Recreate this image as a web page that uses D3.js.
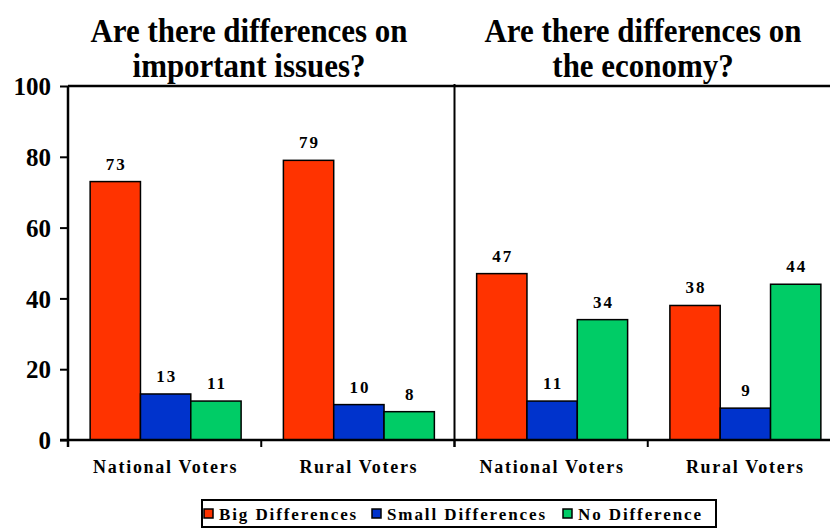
<!DOCTYPE html>
<html>
<head>
<meta charset="utf-8">
<script src="https://cdn.jsdelivr.net/npm/d3@7"></script>
<style>
  body { margin: 0; background: #fff; }
  svg { display: block; }
  text { font-family: "Liberation Serif", "Times New Roman", serif; font-weight: bold; fill: #000; }
</style>
</head>
<body>
<svg width="830" height="529"></svg>
<script>
// chart data
const panelTitles = [
  ["Are there differences on", "important issues?"],
  ["Are there differences on", "the economy?"]
];
const categories = ["National Voters", "Rural Voters"];
const series = ["Big Differences", "Small Differences", "No Difference"];
const seriesColors = ["#ff3300", "#0033cc", "#00cc66"];
const issuesValues = [[73, 13, 11], [79, 10, 8]];
const economyValues = [[47, 11, 34], [38, 9, 44]];
const yTicks = [0, 20, 40, 60, 80, 100];

const panelValues = [issuesValues, economyValues];

var svg = d3.select("svg"),
    width = +svg.attr("width"),
    height = +svg.attr("height");

var mLeft = 68, mRight = 841, mTop = 86, mBottom = 440;

var y = d3.scaleLinear().domain([0, 100]).range([mBottom, mTop]);

var xPanel = d3.scaleBand()
    .domain(d3.range(panelTitles.length))
    .range([mLeft, mRight]);

var color = d3.scaleOrdinal().domain(series).range(seriesColors);

// titles (narrow, tall bold serif -> squeeze horizontally)
var titleCenters = [249, 643];
var squeeze = 0.91;
panelTitles.forEach(function (lines, i) {
    svg.append("text")
        .attr("text-anchor", "middle")
        .attr("transform", "scale(" + squeeze + ",1)")
        .style("font-size", "34px")
        .selectAll("tspan")
        .data(lines)
        .enter().append("tspan")
        .attr("x", titleCenters[i] / squeeze)
        .attr("y", function (d, k) { return 42 + k * 35; })
        .text(function (d) { return d; });
});

// y axis
var yAxis = d3.axisLeft(y)
    .tickValues(yTicks)
    .tickSize(8)
    .tickPadding(9);

var gy = svg.append("g")
    .attr("transform", "translate(" + mLeft + ",0)")
    .call(yAxis);
gy.select(".domain").remove();
gy.selectAll(".tick line").attr("stroke", "#000").attr("stroke-width", 2);
gy.selectAll(".tick text")
    .style("font-size", "25px")
    .style("font-family", "'Liberation Serif', serif")
    .style("font-weight", "bold")
    .attr("dy", "0.35em");

// panels
panelValues.forEach(function (values, p) {
    var x0 = d3.scaleBand()
        .domain(categories)
        .range([xPanel(p), xPanel(p) + xPanel.bandwidth()]);

    var x1 = d3.scaleBand()
        .domain(series)
        .range([0, x0.bandwidth()])
        .paddingOuter(0.42);

    var g = svg.append("g").attr("class", "panel");

    var groups = g.selectAll("g.cat")
        .data(categories)
        .enter().append("g")
        .attr("class", "cat")
        .attr("transform", function (d) { return "translate(" + (x0(d) + 1) + ",0)"; });

    groups.selectAll("rect")
        .data(function (d, i) { return values[i].map(function (v, k) { return {s: series[k], v: v}; }); })
        .enter().append("rect")
        .attr("x", function (d) { return x1(d.s); })
        .attr("y", function (d) { return y(d.v); })
        .attr("width", x1.bandwidth())
        .attr("height", function (d) { return mBottom - y(d.v); })
        .attr("fill", function (d) { return color(d.s); })
        .attr("stroke", "#000")
        .attr("stroke-width", 1.5);

    groups.selectAll("text.val")
        .data(function (d, i) { return values[i].map(function (v, k) { return {s: series[k], v: v}; }); })
        .enter().append("text")
        .attr("class", "val")
        .attr("x", function (d) { return x1(d.s) + x1.bandwidth() / 2 + 1; })
        .attr("y", function (d) { return y(d.v) - 12; })
        .attr("text-anchor", "middle")
        .style("font-size", "17px")
        .style("letter-spacing", "2px")
        .text(function (d) { return d.v; });

    groups.append("text")
        .attr("x", x0.bandwidth() / 2)
        .attr("y", 473)
        .attr("text-anchor", "middle")
        .style("font-size", "18px")
        .style("letter-spacing", "1.7px")
        .text(function (d) { return d; });

    // bottom ticks at category edges
    var edges = categories.map(function (c) { return x0(c); });
    g.selectAll("line.xt")
        .data(edges)
        .enter().append("line")
        .attr("x1", function (d) { return d; })
        .attr("x2", function (d) { return d; })
        .attr("y1", mBottom)
        .attr("y2", mBottom + 7)
        .attr("stroke", "#000")
        .attr("stroke-width", 2);
});

// frame lines
svg.append("line")
    .attr("x1", mLeft).attr("x2", mRight)
    .attr("y1", mTop).attr("y2", mTop)
    .attr("stroke", "#000").attr("stroke-width", 2.5);
svg.append("line")
    .attr("x1", mLeft - 8).attr("x2", mRight)
    .attr("y1", mBottom).attr("y2", mBottom)
    .attr("stroke", "#000").attr("stroke-width", 2.5);
svg.append("line")
    .attr("x1", mLeft).attr("x2", mLeft)
    .attr("y1", mTop).attr("y2", mBottom + 7)
    .attr("stroke", "#000").attr("stroke-width", 2.5);
svg.append("line")
    .attr("x1", xPanel(1)).attr("x2", xPanel(1))
    .attr("y1", mTop - 2).attr("y2", mBottom + 7)
    .attr("stroke", "#000").attr("stroke-width", 2);

// legend
var legend = svg.append("g").attr("transform", "translate(202,500)");
legend.append("rect")
    .attr("width", 514).attr("height", 27)
    .attr("fill", "#fff")
    .attr("stroke", "#000").attr("stroke-width", 2);

var legendX = [2, 170, 361];
var items = legend.selectAll("g.item")
    .data(series)
    .enter().append("g")
    .attr("class", "item")
    .attr("transform", function (d, i) { return "translate(" + legendX[i] + ",0)"; });

items.append("rect")
    .attr("x", 0).attr("y", 9)
    .attr("width", 9).attr("height", 9)
    .attr("fill", function (d) { return color(d); })
    .attr("stroke", "#000").attr("stroke-width", 1.5);

items.append("text")
    .attr("x", 15).attr("y", 20)
    .style("font-size", "17px")
    .style("letter-spacing", "1.9px")
    .text(function (d) { return d; });
</script>
</body>
</html>
